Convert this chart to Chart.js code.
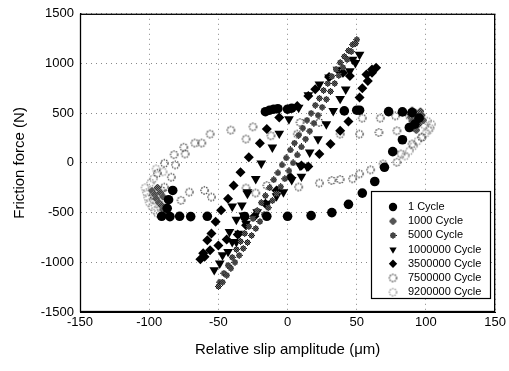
<!DOCTYPE html>
<html lang="en">
<head>
    <meta charset="UTF-8">
    <title>Friction force vs relative slip amplitude</title>
    <style>
        body { margin: 0; background: #fff; }
        #wrap { width: 509px; height: 371px; }
    </style>
</head>
<body>
<div id="wrap"><canvas id="chart1" width="509" height="371"></canvas></div>

<script src="https://cdn.jsdelivr.net/npm/chart.js"></script>
<script>
    // tick labels
    var xTicks = [-150, -100, -50, 0, 50, 100, 150];
    var yTicks = [-1500, -1000, -500, 0, 500, 1000, 1500];

    var seriesNames = ['1 Cycle', '1000 Cycle', '5000 Cycle', '1000000 Cycle', '3500000 Cycle', '7500000 Cycle', '9200000 Cycle'];

    // [slip (um), force (N)]
    var cycle1 = [[-91,-537],[-85,-540],[-78,-537],[-70,-540],[-58,-537],[-31,-540],[-15,-537],[0,-537],[17,-530],[32,-500],
        [44,-417],[54,-304],[63,-187],[70,-44],[76,113],[83,233],[88,356],[92,390],[95,450],[90,506],[83,513],[73,516],
        [52,530],[50,530],[41,523],[3,550],[0,540],[-7,545],[-10,540],[-13,530],[-16,515],[-83,-277],[-86,-370],[-87,-457]];

    var cycle1000 = [[88,500],[90,530],[92,510],[94,490],[96,520],[89,460],[91,470],[93,440],[95,460],[97,480],[90,420],
        [92,400],[94,380],[96,410],[98,430],[91,350],[93,330],
        [-98,-280],[-96,-320],[-95,-360],[-93,-400],[-91,-430],[-90,-470],[-88,-500],[-94,-250],[-92,-300],[-90,-340]];

    var cycle5000 = [[50,1240],[47,1190],[44,1130],[41,1070],[38,1010],[35,940],[32,870],[29,800],[26,730],[23,650],[20,580],
        [17,500],[14,430],[11,350],[8,280],[5,200],[2,130],[-1,50],[-4,-20],[-7,-100],[-10,-170],[-13,-250],[-16,-330],
        [-19,-400],[-22,-480],[-25,-560],[-28,-640],[-31,-710],[-34,-790],[-37,-870],[-40,-950],[-43,-1030],[-46,-1110],[-49,-1200],
        [-50,-1243],[-47,-1200],[-44,-1130],[-41,-1060],[-38,-1000],[-35,-930],[-32,-860],[-29,-800],[-26,-730],[-23,-660],
        [-20,-590],[-17,-520],[-14,-450],[-11,-380],[-8,-310],[-5,-240],[-2,-160],[1,-80],[4,0],[7,80],[10,160],[13,240],
        [16,320],[19,400],[22,480],[25,560],[28,640],[31,720],[34,800],[37,880],[40,960],[43,1040],[46,1120],[49,1200]];

    var cycle1000000 = [[52,1090],[49,1006],[45,923],[36,940],[30,860],[23,790],[15,683],[8,556],[1,440],[-6,296],[-11,156],
        [-19,-4],[-23,-160],[-29,-310],[-33,-427],[-40,-437],[-37,-570],[-42,-694],[-47,-927],[-53,-1077],[-49,-1010],
        [-43,-894],[-40,-794],[-37,-794],[-35,-710],[-30,-610],[-32,-527],[-22,-494],[-15,-410],[-8,-334],[-3,-294],
        [-29,-294],[3,-170],[10,-137],[9,-27],[14,-37],[16,106],[22,240],[28,390],[33,523],[38,646],[42,740],[47,1040]];

    var cycle3500000 = [[64,957],[61,940],[57,890],[45,873],[40,907],[30,863],[20,740],[15,673],[7,573],[-6,457],[-15,340],
        [-20,197],[-28,57],[-34,-93],[-39,-227],[-43,-360],[-48,-477],[-52,-593],[-55,-710],[-58,-777],[-61,-910],[-63,-970],
        [-60,-944],[-56,-880],[-50,-830],[-44,-770],[-36,-720],[-30,-627],[-24,-537],[-16,-410],[-8,-277],[2,-143],[10,-27],
        [15,-37],[23,90],[31,190],[38,323],[44,417],[52,657],[54,750],[58,823],[61,907]];

    var cycle7500000 = [[-25,363],[-41,330],[-56,290],[-62,200],[-67,200],[-75,157],[-74,90],[-82,83],[-89,-4],[-81,-20],
        [-84,-144],[-94,-104],[-89,-244],[-97,-327],[-91,-277],[-77,-377],[-71,-294],[-60,-277],[-55,-344],[-30,-253],
        [-23,-303],[-15,-227],[8,-243],[23,-203],[32,-177],[38,-167],[47,-160],[52,-110],[60,-70],[69,-10],[79,7],[82,90],
        [90,190],[97,257],[95,490],[88,473],[78,473],[67,450],[54,450],[52,290],[38,290],[23,407],[9,407],[7,290],
        [-12,273],[-30,240],[66,306],[79,323]];

    var cycle9200000 = [[-103,-250],[-102,-300],[-101,-350],[-100,-400],[-98,-440],[-96,-480],[-94,-510],[-97,-370],
        [-99,-200],[-97,-160],[-92,-420],[-95,-60],[-90,-90],[85,70],[88,120],[91,170],[94,220],[97,260],[100,300],
        [103,350],[104,390],[101,420],[99,380],[102,330]];

    function hatchMarker(dark, light, r) {
        var c = document.createElement('canvas');
        var n = Math.ceil(r * 2) + 1;
        c.width = c.height = n;
        var g = c.getContext('2d');
        var m = (n - 1) / 2;
        for (var i = 0; i < n; i++) {
            for (var j = 0; j < n; j++) {
                if (Math.hypot(i - m, j - m) <= r) {
                    g.fillStyle = (i + j) % 2 ? dark : light;
                    g.fillRect(i, j, 1, 1);
                }
            }
        }
        return c;
    }

    function ringMarker(color, r) {
        var c = document.createElement('canvas');
        var n = Math.ceil(r * 2) + 3;
        c.width = c.height = n;
        var g = c.getContext('2d');
        g.setLineDash([1.5, 1.1]);
        g.strokeStyle = color;
        g.lineWidth = 1.2;
        g.beginPath();
        g.arc(n / 2, n / 2, r, 0, Math.PI * 2);
        g.stroke();
        return c;
    }

    function toPoints(arr) {
        return arr.map(function (p) { return { x: p[0], y: p[1] }; });
    }

    var styles = [
        { pointStyle: 'circle', radius: 4.8, rotation: 0, color: '#000' },
        { pointStyle: hatchMarker('#111', '#999', 3.6), radius: 3.6, rotation: 0, color: '#444' },
        { pointStyle: hatchMarker('#111', '#777', 3), radius: 3, rotation: 0, color: '#444' },
        { pointStyle: 'triangle', radius: 5.6, rotation: 180, color: '#000' },
        { pointStyle: 'rectRot', radius: 5, rotation: 0, color: '#000' },
        { pointStyle: ringMarker('#3a3a3a', 3.6), radius: 3.6, rotation: 0, color: '#444' },
        { pointStyle: ringMarker('#8a8a8a', 3.6), radius: 3.6, rotation: 0, color: '#999' }
    ];
    var seriesData = [cycle1, cycle1000, cycle5000, cycle1000000, cycle3500000, cycle7500000, cycle9200000];

    var datasets = seriesData.map(function (d, i) {
        var s = styles[i];
        return {
            label: seriesNames[i],
            data: toPoints(d),
            pointStyle: s.pointStyle,
            pointRadius: s.radius,
            pointRotation: s.rotation,
            pointBackgroundColor: s.color,
            pointBorderColor: s.color,
            pointBorderWidth: 0,
            showLine: false
        };
    });

    var font = '"Liberation Sans", Arial, sans-serif';

    var frameLegend = {
        id: 'frameLegend',
        afterDatasetsDraw: function (chart) {
            var ctx = chart.ctx, a = chart.chartArea;
            ctx.save();
            ctx.strokeStyle = '#000';
            ctx.lineWidth = 1.3;
            ctx.setLineDash([]);
            ctx.strokeRect(a.left + 0.5, a.top + 0.5, a.right - a.left - 1, a.bottom - a.top - 1);

            var w = 119, h = 107;
            var bx = Math.round(a.right - 5 - w), by = Math.round(a.bottom - 14 - h);
            ctx.fillStyle = '#fff';
            ctx.fillRect(bx, by, w, h);
            ctx.lineWidth = 1.2;
            ctx.strokeRect(bx + 0.5, by + 0.5, w, h);

            ctx.font = '11px ' + font;
            ctx.textBaseline = 'middle';
            chart.data.datasets.forEach(function (ds, i) {
                var y = by + 16 + i * 14.2;
                var x = bx + 22;
                var s = styles[i];
                ctx.fillStyle = s.color;
                ctx.strokeStyle = s.color;
                Chart.helpers.drawPoint(ctx, { pointStyle: s.pointStyle, rotation: s.rotation, radius: Math.min(s.radius, 4.2), borderWidth: 0 }, x, y);
                ctx.fillStyle = '#000';
                ctx.fillText(ds.label, bx + 37, y);
            });
            ctx.restore();
        }
    };

    var ctx = document.getElementById('chart1').getContext('2d');
    new Chart(ctx, {
        type: 'scatter',
        data: { datasets: datasets },
        options: {
            responsive: false,
            animation: false,
            events: [],
            layout: { padding: { left: 0, right: 12, top: 12, bottom: 0 } },
            plugins: { legend: { display: false }, tooltip: { enabled: false } },
            scales: {
                x: {
                    type: 'linear', min: -150, max: 150,
                    afterBuildTicks: function (s) { s.ticks = xTicks.map(function (v) { return { value: v }; }); },
                    afterFit: function (s) { s.height = 59; },
                    ticks: { color: '#000', padding: 3, font: { family: font, size: 13 }, maxRotation: 0,
                        callback: function (v) { return String(v); } },
                    grid: { color: '#888', drawTicks: false },
                    border: { color: '#000', dash: [1, 4] },
                    title: { display: true, text: 'Relative slip amplitude (μm)', color: '#000',
                        font: { family: font, size: 15 }, padding: { top: 0, bottom: 12 } }
                },
                y: {
                    type: 'linear', min: -1500, max: 1500,
                    afterBuildTicks: function (s) { s.ticks = yTicks.map(function (v) { return { value: v }; }); },
                    afterFit: function (s) { s.width = 80; },
                    ticks: { color: '#000', padding: 6, font: { family: font, size: 13 },
                        callback: function (v) { return String(v); } },
                    grid: { color: '#888', drawTicks: false },
                    border: { color: '#000', dash: [1, 4] },
                    title: { display: true, text: 'Friction force (N)', color: '#000',
                        font: { family: font, size: 15 }, padding: { top: 11, bottom: 0 } }
                }
            }
        },
        plugins: [frameLegend]
    });
</script>
</body>
</html>
